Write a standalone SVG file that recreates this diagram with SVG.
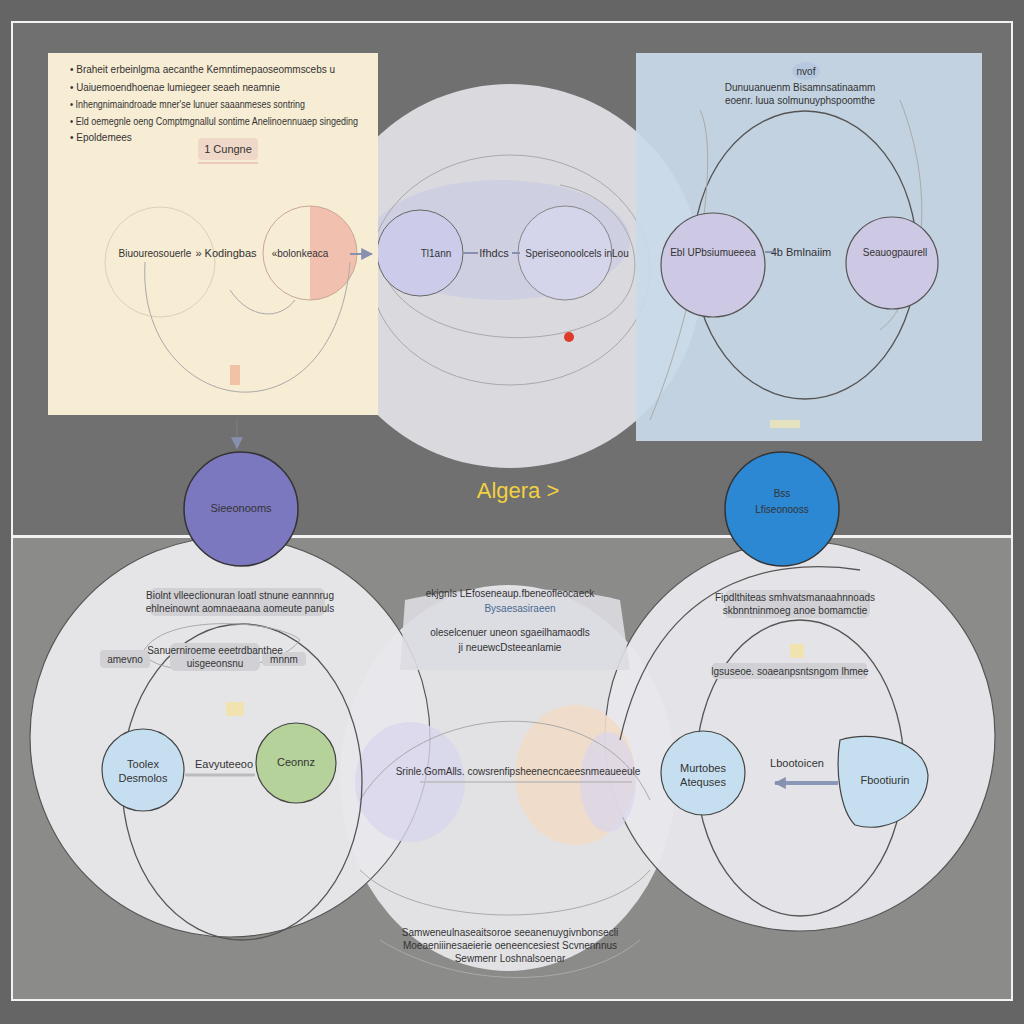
<svg xmlns="http://www.w3.org/2000/svg" width="1024" height="1024" viewBox="0 0 1024 1024">
<style>
.t{font-family:"Liberation Sans",Arial,sans-serif;fill:#333;}
.s{font-size:10px;}
.m{font-size:11px;}
.thin{fill:none;stroke:#555;stroke-width:1.3;}
.faint{fill:none;stroke:#aaa;stroke-width:1;}
.conn{stroke:#8890b0;stroke-width:2;fill:none;}
.lbl{fill:#d0d0d5;}
</style>
<defs>
<marker id="ah" viewBox="0 0 10 10" refX="9" refY="5" markerWidth="12" markerHeight="12" markerUnits="userSpaceOnUse" orient="auto"><path d="M0,0L10,5L0,10z" fill="#8890b0"/></marker>
</defs>
<rect width="1024" height="1024" fill="#656565"/>
<rect x="12" y="22" width="1000" height="514" fill="#707070" stroke="#f2f2f2" stroke-width="2"/>
<rect x="12" y="537" width="1000" height="463" fill="#8b8b89" stroke="#f2f2f2" stroke-width="2"/>

<g id="top-center">
<circle cx="510" cy="276" r="192" fill="#dedee4" opacity="0.95"/>
<ellipse cx="500" cy="240" rx="130" ry="60" fill="#c8c8e4" opacity="0.6"/>
<ellipse cx="510" cy="270" rx="140" ry="115" class="faint"/>
<path d="M380,250 C380,330 520,360 600,320 C660,290 640,200 560,185" class="faint"/>
<circle cx="420" cy="253" r="43" fill="#ccccea" stroke="#666" stroke-width="1"/>
<circle cx="565" cy="253" r="47" fill="#d4d4ea" stroke="#888" stroke-width="1"/>
<circle cx="569" cy="337" r="5" fill="#e03a2a"/>
<text class="t s" x="436" y="257" text-anchor="middle" fill="#666">Tl1ann</text>
<text class="t m" x="494" y="257" text-anchor="middle">Ifhdcs</text>
<text class="t s" x="577" y="257" text-anchor="middle">Speriseonoolcels inLou</text>
</g>

<g id="panel-yellow">
<rect x="48" y="53" width="330" height="362" fill="#f7ecd4"/>
<g class="t s">
<text x="70" y="73" textLength="265" lengthAdjust="spacingAndGlyphs">• Braheit erbeinlgma aecanthe Kemntimepaoseommscebs u</text>
<text x="70" y="91" textLength="210" lengthAdjust="spacingAndGlyphs">• Uaiuemoendhoenae lumiegeer seaeh neamnie</text>
<text x="70" y="108" textLength="235" lengthAdjust="spacingAndGlyphs">• Inhengnimaindroade mner'se lunuer saaanmeses sontring</text>
<text x="70" y="125" textLength="288" lengthAdjust="spacingAndGlyphs">• Eld oemegnle oeng Comptmgnallul sontime Anelinoennuaep singeding</text>
<text x="70" y="141">• Epoldemees</text>
</g>
<rect x="198" y="138" width="60" height="22" rx="4" fill="#f0d8c8"/>
<text class="t m" x="228" y="153" text-anchor="middle">1 Cungne</text>
<line x1="198" y1="163" x2="258" y2="163" stroke="#e0a8a0" stroke-width="1"/>
<circle cx="160" cy="262" r="55" fill="none" stroke="#ddd0b8" stroke-width="1"/>
<path d="M310,206 A47,47 0 0 1 310,300 Z" fill="#f2c0ae"/>
<circle cx="310" cy="253" r="47" fill="none" stroke="#c8a898" stroke-width="1"/>
<path d="M145,262 C140,350 200,395 250,392 C310,388 345,330 350,262" class="faint"/>
<path d="M230,290 C250,320 280,320 295,300" class="faint"/>
<text class="t s" x="155" y="257" text-anchor="middle">Biuoureosouerle</text>
<text class="t m" x="226" y="257" text-anchor="middle">» Kodingbas</text>
<text class="t s" x="300" y="257" text-anchor="middle">«bolonkeaca</text>
<rect x="230" y="365" width="10" height="20" fill="#f0b090" opacity="0.7"/>
</g>

<g id="panel-blue">
<rect x="636" y="53" width="346" height="388" fill="#c8d9ea" opacity="0.93"/>
<ellipse cx="806" cy="71" rx="14" ry="9" fill="#b5c8e0"/>
<text class="t s" x="806" y="75" text-anchor="middle">nvof</text>
<text class="t s" x="800" y="91" text-anchor="middle">Dunuuanuenm Bisamnsatinaamm</text>
<text class="t s" x="800" y="104" text-anchor="middle">eoenr. luua solmunuyphspoomthe</text>
<ellipse cx="805" cy="255" rx="112" ry="144" class="thin"/>
<path d="M650,420 C700,300 720,150 700,110" class="faint"/>
<path d="M900,100 C940,200 920,300 880,330" class="faint"/>
<circle cx="713" cy="265" r="52" fill="#cdc8e3" stroke="#555" stroke-width="1.2"/>
<circle cx="892" cy="263" r="46" fill="#cdc8e3" stroke="#555" stroke-width="1.2"/>
<text class="t s" x="713" y="256" text-anchor="middle">Ebl UPbsiumueeea</text>
<text class="t m" x="801" y="256" text-anchor="middle">4b Bmlnaiim</text>
<text class="t s" x="895" y="256" text-anchor="middle">Seauogpaurell</text>
<rect x="770" y="420" width="30" height="8" fill="#f2e8b0" opacity="0.7"/>
</g>

<text x="518" y="498" font-family="Liberation Sans,Arial,sans-serif" font-size="22" fill="#f2d040" text-anchor="middle">Algera &gt;</text>

<g id="bottom-left">
<circle cx="230" cy="737" r="200" fill="#e5e5e8"/>
</g>
<g id="bottom-right">
<circle cx="800" cy="736" r="195" fill="#e4e4e8"/>
</g>
<g id="bottom-center">
<ellipse cx="508" cy="778" rx="168" ry="193" fill="#e8e8ec" opacity="0.93"/>
<circle cx="230" cy="737" r="200" fill="none" stroke="#555" stroke-width="1.2"/>
<circle cx="800" cy="736" r="195" fill="none" stroke="#555" stroke-width="1.2"/>
<path d="M405,600 C470,585 560,585 620,600 L630,670 L400,670 Z" fill="#dcdce2" opacity="0.9"/>
<ellipse cx="410" cy="782" rx="55" ry="60" fill="#d8d6ec" opacity="0.8"/>
<ellipse cx="575" cy="775" rx="60" ry="70" fill="#f1dcc6" opacity="0.9"/>
<ellipse cx="608" cy="782" rx="28" ry="50" fill="#d8d6ec" opacity="0.7"/>
<path d="M360,800 C420,700 600,690 650,800" class="faint"/>
<path d="M360,870 C420,930 600,930 650,870" class="faint"/>
<path d="M380,940 C460,990 580,990 640,940" class="faint"/>
<g class="t s" text-anchor="middle">
<text x="510" y="597">ekjgnls LEfoseneaup.fbeneofleocaeck</text>
<text x="520" y="612" fill="#4a6a90">Bysaesasiraeen</text>
<text x="510" y="636">oleselcenuer uneon sgaeilhamaodls</text>
<text x="510" y="651">ji neuewcDsteeanlamie</text>
<text x="518" y="775">Srinle.GomAlls. cowsrenfipsheenecncaeesnmeaueeule</text>
<text x="510" y="936">Samweneulnaseaitsoroe seeanenuygivnbonsecli</text>
<text x="510" y="949">Moeaeniiinesaeierie oeneencesiest Scvnennnus</text>
<text x="510" y="962">Sewmenr Loshnalsoenar</text>
</g>
</g>
<g id="bottom-left-inner">
<ellipse cx="242" cy="782" rx="120" ry="158" class="thin"/>
<path d="M140,660 C150,610 280,620 300,640 C280,670 180,680 150,660" class="faint"/>
<rect x="150" y="588" width="175" height="28" rx="6" class="lbl"/>
<text class="t s" x="240" y="599" text-anchor="middle">Biolnt vlleeclionuran loatl stnune eannnrug</text>
<text class="t s" x="240" y="612" text-anchor="middle">ehlneinownt aomnaeaana aomeute panuls</text>
<rect x="100" y="650" width="50" height="18" rx="4" class="lbl"/>
<rect x="170" y="643" width="90" height="28" rx="6" class="lbl"/>
<rect x="262" y="652" width="44" height="14" rx="4" class="lbl"/>
<text class="t s" x="215" y="654" text-anchor="middle">Sanuerniroeme eeetrdbanthee</text>
<text class="t s" x="215" y="667" text-anchor="middle">uisgeeonsnu</text>
<text class="t s" x="125" y="663" text-anchor="middle" fill="#777">amevno</text>
<text class="t s" x="284" y="663" text-anchor="middle" fill="#888">mnnm</text>
<rect x="226" y="702" width="18" height="14" fill="#f2e2a0" opacity="0.8"/>
<circle cx="143" cy="770" r="41" fill="#c6dff0" stroke="#444" stroke-width="1.2"/>
<text class="t m" x="143" y="768" text-anchor="middle">Toolex</text>
<text class="t m" x="143" y="782" text-anchor="middle">Desmolos</text>
<text class="t m" x="224" y="768" text-anchor="middle">Eavyuteeoo</text>
<circle cx="296" cy="763" r="40" fill="#b5d29a" stroke="#444" stroke-width="1.2"/>
<text class="t m" x="296" y="766" text-anchor="middle">Ceonnz</text>
</g>
<g id="bottom-right-inner">
<ellipse cx="800" cy="768" rx="104" ry="148" class="thin"/>
<path d="M620,740 C660,560 800,560 860,570" class="thin"/>
<rect x="725" y="590" width="145" height="28" rx="6" class="lbl"/>
<text class="t s" x="795" y="601" text-anchor="middle">Fipdlthiteas smhvatsmanaahnnoads</text>
<text class="t s" x="795" y="614" text-anchor="middle">skbnntninmoeg anoe bomamctie</text>
<rect x="790" y="644" width="14" height="14" fill="#f2e2a0" opacity="0.8"/>
<rect x="712" y="663" width="155" height="16" rx="4" class="lbl"/>
<text class="t s" x="790" y="675" text-anchor="middle">lgsuseoe. soaeanpsntsngom lhmee</text>
<circle cx="703" cy="773" r="42" fill="#c6dff0" stroke="#444" stroke-width="1.2"/>
<text class="t m" x="703" y="772" text-anchor="middle">Murtobes</text>
<text class="t m" x="703" y="786" text-anchor="middle">Atequses</text>
<text class="t m" x="797" y="767" text-anchor="middle">Lbootoicen</text>
<path d="M840,740 C870,730 925,740 928,775 C928,810 890,835 855,825 C840,810 835,770 840,740 Z" fill="#c6dff0" stroke="#444" stroke-width="1.2"/>
<text class="t m" x="885" y="784" text-anchor="middle">Fbootiurin</text>
</g>

<g id="connectors">
<path d="M350,254 L372,254" class="conn" marker-end="url(#ah)"/>
<path d="M463,253 L478,253" class="conn"/>
<path d="M512,253 L520,253" class="conn"/>
<path d="M765,252 L775,252" class="conn"/>
<path d="M237,418 L237,448" stroke="#777" stroke-width="2" marker-end="url(#ah)"/>
<path d="M185,775 L255,775" stroke="#bbb" stroke-width="3"/>
<path d="M838,783 L775,783" stroke="#8a98b8" stroke-width="4" marker-end="url(#ah)"/>
<path d="M420,782 L632,782" stroke="#bbb" stroke-width="1.5"/>
</g>

<g id="node-left">
<circle cx="241" cy="509" r="57" fill="#7b78c0" stroke="#333" stroke-width="1.5"/>
<text class="t m" x="241" y="512" text-anchor="middle" fill="#222">Sieeonooms</text>
</g>
<g id="node-right">
<circle cx="782" cy="509" r="57" fill="#2c88d2" stroke="#333" stroke-width="1.5"/>
<text class="t s" x="782" y="497" text-anchor="middle" fill="#222">Bss</text>
<text class="t s" x="782" y="513" text-anchor="middle" fill="#222">Lfiseonooss</text>
</g>
</svg>
